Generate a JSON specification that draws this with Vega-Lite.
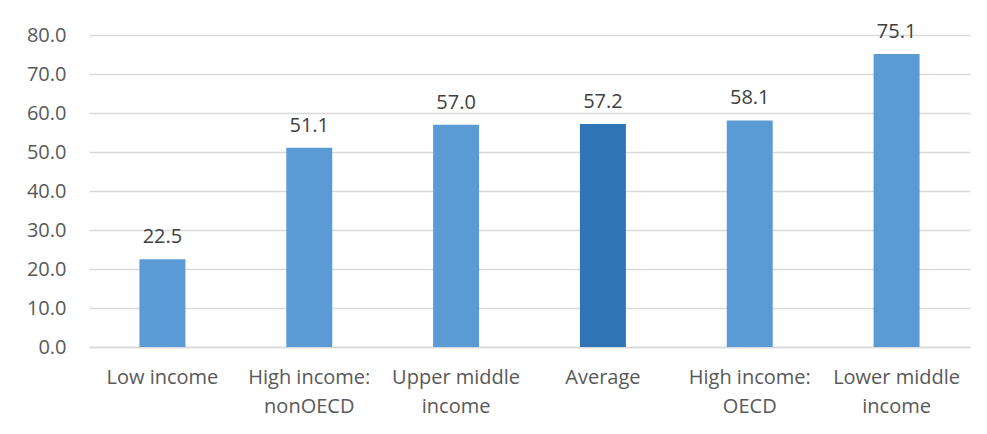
{
  "$schema": "https://vega.github.io/schema/vega-lite/v6.json",
  "autosize": "none",
  "width": 881,
  "height": 312,
  "padding": {"left": 89, "top": 35, "right": 17, "bottom": 87},
  "background": "white",
  "data": {
    "values": [
      {"group": "Low income", "value": 22.5, "type": "group"},
      {"group": "High income: nonOECD", "value": 51.1, "type": "group"},
      {"group": "Upper middle income", "value": 57.0, "type": "group"},
      {"group": "Average", "value": 57.2, "type": "average"},
      {"group": "High income: OECD", "value": 58.1, "type": "group"},
      {"group": "Lower middle income", "value": 75.1, "type": "group"}
    ]
  },
  "config": {
    "view": {"stroke": null},
    "font": "Open Sans"
  },
  "encoding": {
    "x": {
      "field": "group",
      "type": "nominal",
      "sort": null,
      "scale": {"paddingInner": 0.687, "paddingOuter": 0.3435},
      "axis": {
        "title": null,
        "labelAngle": 0,
        "labelFont": "Open Sans",
        "labelFontSize": 20,
        "labelColor": "#595959",
        "labelPadding": 20,
        "labelLineHeight": 29,
        "ticks": false,
        "domainColor": "#d9d9d9",
        "domainWidth": 1.5,
        "labelExpr": "indexof(datum.value, ':') > 0 ? [slice(datum.value, 0, indexof(datum.value, ':') + 1), slice(datum.value, indexof(datum.value, ':') + 2)] : (datum.value == 'Upper middle income' || datum.value == 'Lower middle income') ? [slice(datum.value, 0, 12), 'income'] : datum.value"
      }
    },
    "y": {
      "field": "value",
      "type": "quantitative",
      "scale": {"domain": [0, 80], "nice": false},
      "axis": {
        "title": null,
        "values": [0, 10, 20, 30, 40, 50, 60, 70, 80],
        "format": ".1f",
        "labelFont": "Open Sans",
        "labelFontSize": 20,
        "labelColor": "#595959",
        "labelPadding": 23,
        "ticks": false,
        "domain": false,
        "gridColor": "#d9d9d9",
        "gridWidth": 1.5
      }
    }
  },
  "layer": [
    {
      "mark": {"type": "bar"},
      "encoding": {
        "color": {
          "field": "type",
          "type": "nominal",
          "scale": {"domain": ["group", "average"], "range": ["#5b9bd5", "#2e75b6"]},
          "legend": null
        }
      }
    },
    {
      "mark": {"type": "text", "baseline": "alphabetic", "dy": -16, "fontSize": 20, "color": "#404040", "font": "Open Sans"},
      "encoding": {
        "text": {"field": "value", "type": "quantitative", "format": ".1f"}
      }
    }
  ]
}
